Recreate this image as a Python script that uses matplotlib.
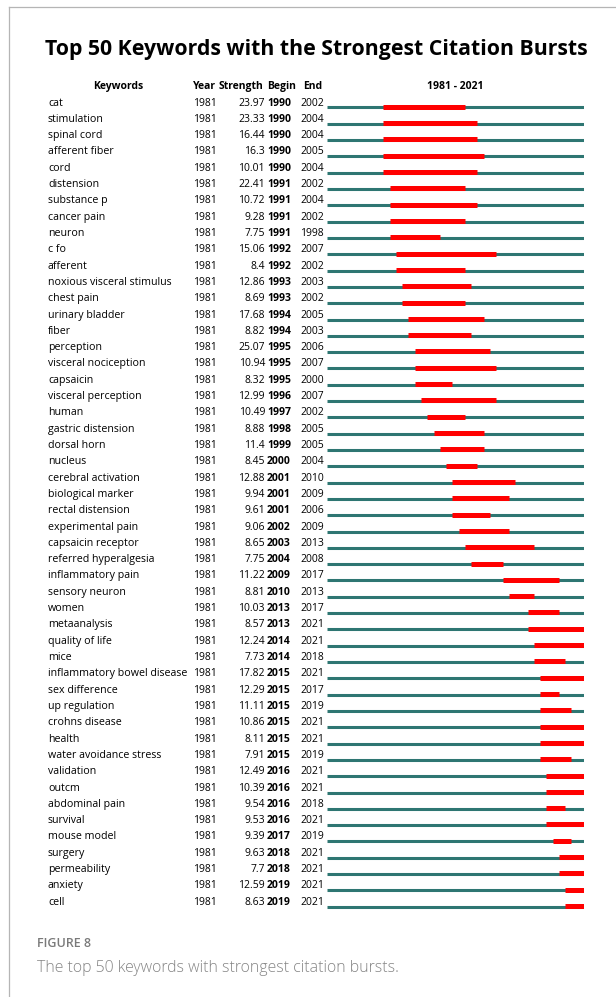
import matplotlib
matplotlib.use("Agg")
import matplotlib.pyplot as plt
from matplotlib.lines import Line2D

plt.rcParams['font.family'] = ['Open Sans', 'DejaVu Sans']

# dati: parola chiave, forza, inizio e fine del burst
keywords = ["cat", "stimulation", "spinal cord", "afferent fiber", "cord",
            "distension", "substance p", "cancer pain", "neuron", "c fo",
            "afferent", "noxious visceral stimulus", "chest pain", "urinary bladder", "fiber",
            "perception", "visceral nociception", "capsaicin", "visceral perception", "human",
            "gastric distension", "dorsal horn", "nucleus", "cerebral activation", "biological marker",
            "rectal distension", "experimental pain", "capsaicin receptor", "referred hyperalgesia", "inflammatory pain",
            "sensory neuron", "women", "metaanalysis", "quality of life", "mice",
            "inflammatory bowel disease", "sex difference", "up regulation", "crohns disease", "health",
            "water avoidance stress", "validation", "outcm", "abdominal pain", "survival",
            "mouse model", "surgery", "permeability", "anxiety", "cell"]
strength = ["23.97", "23.33", "16.44", "16.3", "10.01",
            "22.41", "10.72", "9.28", "7.75", "15.06",
            "8.4", "12.86", "8.69", "17.68", "8.82",
            "25.07", "10.94", "8.32", "12.99", "10.49",
            "8.88", "11.4", "8.45", "12.88", "9.94",
            "9.61", "9.06", "8.65", "7.75", "11.22",
            "8.81", "10.03", "8.57", "12.24", "7.73",
            "17.82", "12.29", "11.11", "10.86", "8.11",
            "7.91", "12.49", "10.39", "9.54", "9.53",
            "9.39", "9.63", "7.7", "12.59", "8.63"]
begin = [1990, 1990, 1990, 1990, 1990, 1991, 1991, 1991, 1991, 1992,
         1992, 1993, 1993, 1994, 1994, 1995, 1995, 1995, 1996, 1997,
         1998, 1999, 2000, 2001, 2001, 2001, 2002, 2003, 2004, 2009,
         2010, 2013, 2013, 2014, 2014, 2015, 2015, 2015, 2015, 2015,
         2015, 2016, 2016, 2016, 2016, 2017, 2018, 2018, 2019, 2019]
end = [2002, 2004, 2004, 2005, 2004, 2002, 2004, 2002, 1998, 2007,
       2002, 2003, 2002, 2005, 2003, 2006, 2007, 2000, 2007, 2002,
       2005, 2005, 2004, 2010, 2009, 2006, 2009, 2013, 2008, 2017,
       2013, 2017, 2021, 2021, 2018, 2021, 2017, 2019, 2021, 2021,
       2019, 2021, 2021, 2018, 2021, 2019, 2021, 2021, 2021, 2021]
start_year, end_year = 1981, 2021

W, H = 616, 997
fig = plt.figure(figsize=(W / 100, H / 100), dpi=100)

# righe in unita' di indice, stessa scala verticale per testo e barre
row0, step = 103, 16.31
ylim = ((H - row0) / step, -row0 / step)

tx = fig.add_axes([0, 0, 1, 1])
tx.set_xlim(0, W)
tx.set_ylim(*ylim)
tx.axis('off')

bx = fig.add_axes([327 / W, 0, (584 - 327) / W, 1])
bx.set_xlim(start_year, end_year + 1)
bx.set_ylim(*ylim)
bx.axis('off')

fs = 7.5
fs_kw = 7.7
teal = '#2e7672'
rows = range(len(keywords))
off = 4.5 / step

bx.hlines([i + off for i in rows], start_year, end_year + 1, color=teal, lw=2.2, capstyle='butt')
bx.hlines([i + off - 0.04 for i in rows], begin, [e + 1 for e in end], color='#ff0000', lw=3.6, capstyle='butt')

for i in rows:
    tx.text(48, i, keywords[i], fontsize=fs_kw, va='center', ha='left')
    tx.text(193, i, str(start_year), fontsize=fs, va='center', ha='left')
    tx.text(265, i, strength[i], fontsize=fs, va='center', ha='right')
    tx.text(267, i, str(begin[i]), fontsize=fs, va='center', ha='left', fontweight='bold')
    tx.text(300, i, str(end[i]), fontsize=fs, va='center', ha='left')

hy = -1
tx.text(118, hy, "Keywords", fontsize=fs, va='center', ha='center', fontweight='bold')
tx.text(193, hy, "Year", fontsize=fs, va='center', ha='left', fontweight='bold')
tx.text(219, hy, "Strength", fontsize=fs, va='center', ha='left', fontweight='bold')
tx.text(267, hy, "Begin", fontsize=fs, va='center', ha='left', fontweight='bold')
tx.text(303, hy, "End", fontsize=fs, va='center', ha='left', fontweight='bold')
bx.text((start_year + end_year + 1) / 2, hy, f"{start_year} - {end_year}", fontsize=fs,
        va='center', ha='center', fontweight='bold')

fig.text(316 / W, 1 - 50 / H, "Top 50 Keywords with the Strongest Citation Bursts",
         fontsize=15.3, fontweight='bold', ha='center', va='center')

fig.text(37 / W, 1 - 943 / H, "FIGURE 8", fontsize=9, color='#7a7a7a',
         ha='left', va='center', fontweight='semibold')
fig.text(37 / W, 1 - 968 / H, "The top 50 keywords with strongest citation bursts.",
         fontsize=11.4, color='#858585', ha='left', va='center', fontweight='light')

# cornice
fig.add_artist(Line2D([9 / W, 1], [1 - 7 / H, 1 - 7 / H], color='#b5b5b5', lw=0.9))
fig.add_artist(Line2D([9 / W, 9 / W], [0, 1 - 7 / H], color='#b5b5b5', lw=0.9))

fig.savefig("out.png", dpi=100)
